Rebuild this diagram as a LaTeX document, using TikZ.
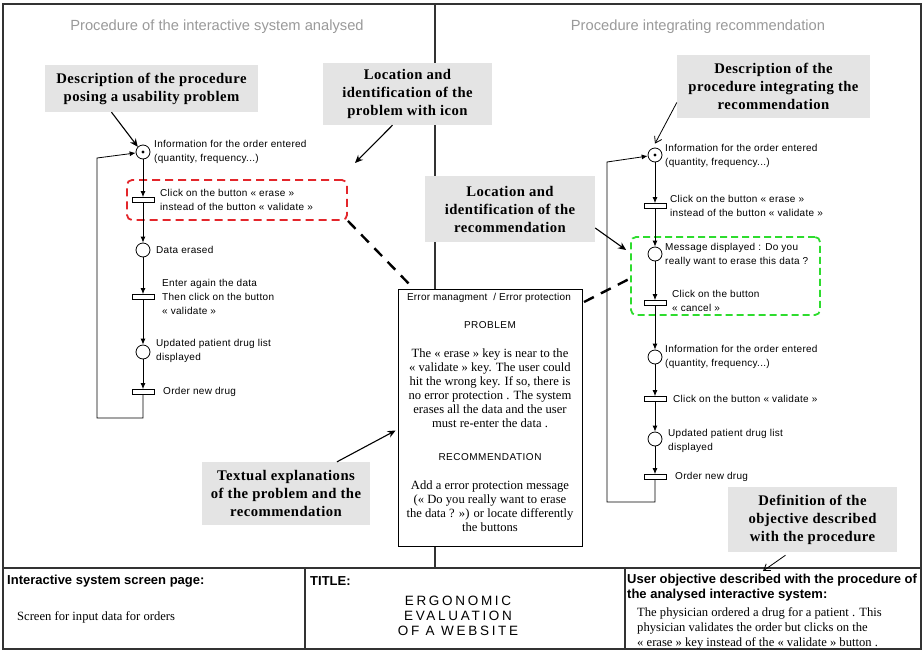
\documentclass[tikz,border=0pt]{standalone}
\usepackage{fontspec}
\setmainfont{Liberation Serif}
\setsansfont{Liberation Sans}
\newfontfamily\callfont[LetterSpace=3]{Liberation Serif}
\newfontfamily\lblfont[LetterSpace=3]{Liberation Sans}
\newfontfamily\slightSans[LetterSpace=2]{Liberation Sans}
\newfontfamily\wideSans[LetterSpace=5]{Liberation Sans}
\newfontfamily\vwideSans[LetterSpace=20]{Liberation Sans}
\usetikzlibrary{arrows.meta}
\definecolor{callgray}{HTML}{E4E4E4}
\definecolor{titlegray}{HTML}{9A9A9A}
\definecolor{redd}{HTML}{E3262B}
\definecolor{greend}{HTML}{2EDC2E}
\definecolor{framec}{HTML}{333333}
\begin{document}
\begin{tikzpicture}[x=1pt,y=-1pt,
 place/.style={circle,draw,line width=0.8pt,minimum size=14pt,inner sep=0pt,fill=white},
 trans/.style={rectangle,draw,line width=0.8pt,minimum width=22pt,minimum height=5pt,inner sep=0pt,fill=white},
 plbl/.style={anchor=west,align=left,inner sep=0pt,font=\lblfont\fontsize{10}{14}\selectfont},
 arr/.style={line width=0.8pt,-{Latex[length=6pt,width=5pt]}},
 callout/.style={fill=callgray,align=center,inner sep=0pt,font=\callfont\bfseries\fontsize{14.7}{18}\selectfont},
 carr/.style={line width=1.1pt,-{Stealth[length=8pt,width=7pt]}},
 oarr/.style={line width=0.8pt,-{Straight Barb[length=6pt,width=8pt]}},
 bigdash/.style={line width=2.4pt,dash pattern=on 11pt off 8pt},
 ptitle/.style={text=titlegray,font=\sffamily\fontsize{14.7}{17}\selectfont,inner sep=0pt},
 boxtxt/.style={align=center,inner sep=0pt,font=\fontsize{12.6}{14}\selectfont},
 boxsans/.style={align=center,inner sep=0pt,font=\wideSans\fontsize{10}{12}\selectfont},
 cellhead/.style={anchor=west,inner sep=0pt,font=\sffamily\bfseries\fontsize{13}{15}\selectfont},
 celltxt/.style={anchor=west,inner sep=0pt,font=\fontsize{12.6}{15}\selectfont},
 framel/.style={draw=framec,line width=1.1pt}
]
\useasboundingbox (0,0) rectangle (923,651);
\fill[white] (0,0) rectangle (923,651);

% frame and table
\draw[framel] (3,4) rectangle (921,649);
\draw[framel] (435,4) -- (435,568);
\draw[framel] (3,568) -- (921,568);
\draw[framel] (305,568) -- (305,649);
\draw[framel] (625,568) -- (625,649);

% titles
\node[ptitle] (tleft) at (217,27) {Procedure of the interactive system analysed};
\node[ptitle] (tright) at (698,27) {Procedure integrating recommendation};

% dashed highlight boxes
\node[draw=redd,line width=1.8pt,dash pattern=on 8pt off 5pt,rounded corners=5pt,minimum width=220pt,minimum height=40pt] (redbox) at (237,200) {};
\node[draw=greend,line width=1.8pt,dash pattern=on 7pt off 4pt,rounded corners=5pt,minimum width=189pt,minimum height=78pt] (greenbox) at (725.5,276) {};

% ---------- left Petri net
\node[place] (lp1) at (143,152) {};
\fill (lp1.center) circle[radius=1.7pt];
\node[trans] (lt1) at (143,200) {};
\node[place] (lp2) at (143,250) {};
\node[trans] (lt2) at (143,297) {};
\node[place] (lp3) at (143,352) {};
\node[trans] (lt3) at (143,392) {};
\coordinate (lla) at (143,418);
\coordinate (llb) at (97,418);
\coordinate (llc) at (97,158);
\draw[arr] (lp1) -- (lt1);
\draw[arr] (lt1) -- (lp2);
\draw[arr] (lp2) -- (lt2);
\draw[arr] (lt2) -- (lp3);
\draw[arr] (lp3) -- (lt3);
\draw[arr] (lt3.south) -- (lla) -- (llb) -- (llc) -- (lp1);
\node[plbl] (lp1l) at (154,152) {Information for the order entered\\(quantity, frequency...)};
\node[plbl] (lt1l) at (160,200) {Click on the button « erase »\\instead of the button « validate »};
\node[plbl] (lp2l) at (156,250) {Data erased};
\node[plbl] (lt2l) at (162,297) {Enter again the data\\Then click on the button\\« validate »};
\node[plbl] (lp3l) at (156,351) {Updated patient drug list\\displayed};
\node[plbl] (lt3l) at (163,392) {Order new drug};

% ---------- right Petri net
\node[place] (rp1) at (655,155) {};
\fill (rp1.center) circle[radius=1.7pt];
\node[trans] (rt1) at (655,206) {};
\node[place] (rp2) at (655,254) {};
\node[trans] (rt2) at (655,303) {};
\node[place] (rp3) at (655,357) {};
\node[trans] (rt3) at (655,399) {};
\node[place] (rp4) at (655,439) {};
\node[trans] (rt4) at (655,477) {};
\coordinate (rla) at (655,502);
\coordinate (rlb) at (607,502);
\coordinate (rlc) at (607,162);
\draw[arr] (rp1) -- (rt1);
\draw[arr] (rt1) -- (rp2);
\draw[arr] (rp2) -- (rt2);
\draw[arr] (rt2) -- (rp3);
\draw[arr] (rp3) -- (rt3);
\draw[arr] (rt3) -- (rp4);
\draw[arr] (rp4) -- (rt4);
\draw[arr] (rt4.south) -- (rla) -- (rlb) -- (rlc) -- (rp1);
\node[plbl] (rp1l) at (665,156) {Information for the order entered\\(quantity, frequency...)};
\node[plbl] (rt1l) at (670,206) {Click on the button « erase »\\instead of the button « validate »};
\node[plbl] (rp2l) at (665,255) {Message displayed : Do you\\really want to erase this data ?};
\node[plbl] (rt2l) at (672,301) {Click on the button\\« cancel »};
\node[plbl] (rp3l) at (665,357) {Information for the order entered\\(quantity, frequency...)};
\node[plbl] (rt3l) at (673,399) {Click on the button « validate »};
\node[plbl] (rp4l) at (668,441) {Updated patient drug list\\displayed};
\node[plbl] (rt4l) at (675,477) {Order new drug};

% ---------- central text box
\node[draw,line width=0.8pt,fill=white,minimum width=184pt,minimum height=257pt] (cbox) at (490,417.5) {};
\node[boxsans,font=\slightSans\fontsize{10}{12}\selectfont] (ct1) at (489,298) {Error managment \ / Error protection};
\node[boxsans] (ct2) at (490,325) {PROBLEM};
\node[boxtxt] (ct3) at (490,388) {The « erase » key is near to the\\« validate » key. The user could\\hit the wrong key. If so, there is\\no error protection . The system\\erases all the data and the user\\must re-enter the data .};
\node[boxsans] (ct4) at (490,457) {RECOMMENDATION};
\node[boxtxt] (ct5) at (490,506) {Add a error protection message\\(« Do you really want to erase\\the data ? ») or locate differently\\the buttons};

% thick dashed connectors
\coordinate (d1end) at (413,288);
\draw[bigdash] (redbox.south east) -- (d1end);
\coordinate (d2start) at (584,302);
\coordinate (d2end) at (633,277);
\draw[bigdash] (d2start) -- (d2end);

% ---------- callouts
\node[callout,minimum width=213pt,minimum height=47pt] (c1) at (151.5,88.5) {Description of the procedure\\posing a usability problem};
\node[callout,minimum width=169pt,minimum height=62pt] (c2) at (407.5,94) {Location and\\identification of the\\problem with icon};
\node[callout,minimum width=193pt,minimum height=63pt] (c3) at (773.5,86.5) {Description of the\\procedure integrating the\\recommendation};
\node[callout,minimum width=170pt,minimum height=66pt] (c4) at (510,209) {Location and\\identification of the\\recommendation};
\node[callout,minimum width=168pt,minimum height=63pt] (c5) at (286,493.5) {Textual explanations\\of the problem and the\\recommendation};
\node[callout,minimum width=169pt,minimum height=65pt] (c6) at (812.5,519.5) {Definition of the\\objective described\\with the procedure};

\draw[carr] ([xshift=-40pt]c1.south) -- (lp1.north west);
\coordinate (c2tip) at (355,163);
\draw[carr] ([xshift=-15pt]c2.south) -- (c2tip);
\draw[oarr] ([yshift=-16pt]c3.west) -- ([yshift=4pt]rp1.north);
\draw[carr] ([yshift=-19pt]c4.east) -- ([xshift=-4pt,yshift=26pt]greenbox.west);
\draw[carr] ([xshift=51pt]c5.north) -- ([xshift=-2pt,yshift=-13pt]cbox.west);
\coordinate (c6tip) at (763,571);
\draw[oarr] ([xshift=-27pt,yshift=-3pt]c6.south) -- (c6tip);

% ---------- bottom table texts
\node[cellhead] (h1) at (7,581) {Interactive system screen page:};
\node[celltxt] (b1) at (17,617) {Screen for input data for orders};
\node[cellhead] (h2) at (310,581) {TITLE:};
\node[align=center,inner sep=0pt,font=\vwideSans\fontsize{13.5}{15}\selectfont] (b2) at (458,616) {ERGONOMIC\\EVALUATION\\OF A WEBSITE};
\node[cellhead] (h3a) at (627,580) {User objective described with the procedure of};
\node[cellhead] (h3b) at (627,595) {the analysed interactive system:};
\node[celltxt] (b3a) at (637,613) {The physician ordered a drug for a patient . This};
\node[celltxt] (b3b) at (637,628) {physician validates the order but clicks on the};
\node[celltxt] (b3c) at (637,643) {« erase » key instead of the « validate » button .};
\end{tikzpicture}
\end{document}
